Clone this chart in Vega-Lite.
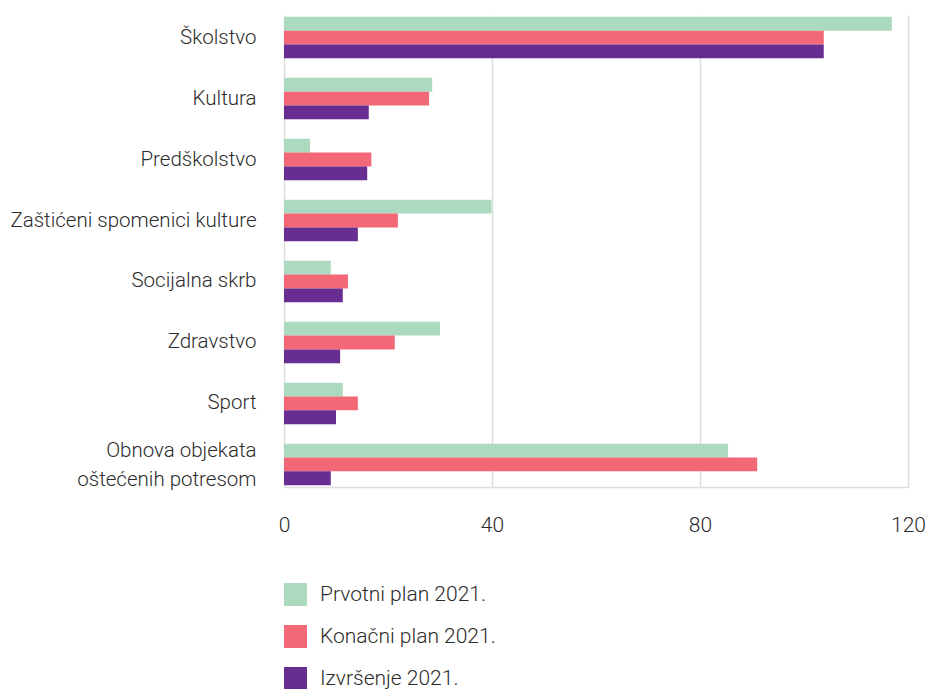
{
  "$schema": "https://vega.github.io/schema/vega-lite/v6.json",
  "width": 624,
  "height": 472,
  "autosize": {"type": "none"},
  "padding": {"left": 284, "top": 15, "right": 22, "bottom": 202},
  "background": "white",
  "config": {
    "view": {"stroke": null},
    "font": "Roboto",
    "axis": {"labelFont": "Roboto", "labelFontWeight": 300, "labelColor": "#2b2b2b", "labelFontSize": 20.5, "labelLimit": 400},
    "legend": {"labelFont": "Roboto", "labelFontWeight": 300, "labelColor": "#2b2b2b", "labelFontSize": 21, "labelLimit": 400}
  },
  "data": {
    "values": [
      {"kategorija": "Školstvo", "serija": "Prvotni plan 2021.", "vrijednost": 116.9},
      {"kategorija": "Školstvo", "serija": "Konačni plan 2021.", "vrijednost": 103.8},
      {"kategorija": "Školstvo", "serija": "Izvršenje 2021.", "vrijednost": 103.8},
      {"kategorija": "Kultura", "serija": "Prvotni plan 2021.", "vrijednost": 28.5},
      {"kategorija": "Kultura", "serija": "Konačni plan 2021.", "vrijednost": 27.9},
      {"kategorija": "Kultura", "serija": "Izvršenje 2021.", "vrijednost": 16.3},
      {"kategorija": "Predškolstvo", "serija": "Prvotni plan 2021.", "vrijednost": 5.0},
      {"kategorija": "Predškolstvo", "serija": "Konačni plan 2021.", "vrijednost": 16.8},
      {"kategorija": "Predškolstvo", "serija": "Izvršenje 2021.", "vrijednost": 16.0},
      {"kategorija": "Zaštićeni spomenici kulture", "serija": "Prvotni plan 2021.", "vrijednost": 39.9},
      {"kategorija": "Zaštićeni spomenici kulture", "serija": "Konačni plan 2021.", "vrijednost": 21.9},
      {"kategorija": "Zaštićeni spomenici kulture", "serija": "Izvršenje 2021.", "vrijednost": 14.2},
      {"kategorija": "Socijalna skrb", "serija": "Prvotni plan 2021.", "vrijednost": 9.0},
      {"kategorija": "Socijalna skrb", "serija": "Konačni plan 2021.", "vrijednost": 12.3},
      {"kategorija": "Socijalna skrb", "serija": "Izvršenje 2021.", "vrijednost": 11.3},
      {"kategorija": "Zdravstvo", "serija": "Prvotni plan 2021.", "vrijednost": 30.0},
      {"kategorija": "Zdravstvo", "serija": "Konačni plan 2021.", "vrijednost": 21.3},
      {"kategorija": "Zdravstvo", "serija": "Izvršenje 2021.", "vrijednost": 10.8},
      {"kategorija": "Sport", "serija": "Prvotni plan 2021.", "vrijednost": 11.3},
      {"kategorija": "Sport", "serija": "Konačni plan 2021.", "vrijednost": 14.2},
      {"kategorija": "Sport", "serija": "Izvršenje 2021.", "vrijednost": 10.0},
      {"kategorija": "Obnova objekata oštećenih potresom", "serija": "Prvotni plan 2021.", "vrijednost": 85.4},
      {"kategorija": "Obnova objekata oštećenih potresom", "serija": "Konačni plan 2021.", "vrijednost": 91.0},
      {"kategorija": "Obnova objekata oštećenih potresom", "serija": "Izvršenje 2021.", "vrijednost": 9.0}
    ]
  },
  "mark": {"type": "bar"},
  "encoding": {
    "y": {
      "field": "kategorija",
      "type": "nominal",
      "sort": null,
      "scale": {"paddingInner": 0.32, "paddingOuter": 0.03},
      "axis": {
        "title": null,
        "domain": false,
        "ticks": false,
        "labelPadding": 28,
        "labelLineHeight": 29,
        "labelOffset": {"condition": {"test": "datum.value == 'Obnova objekata oštećenih potresom'", "value": -13}, "value": 0},
        "labelExpr": "datum.value == 'Obnova objekata oštećenih potresom' ? ['Obnova objekata', 'oštećenih potresom'] : datum.value"
      }
    },
    "yOffset": {
      "field": "serija",
      "type": "nominal",
      "sort": ["Prvotni plan 2021.", "Konačni plan 2021.", "Izvršenje 2021."],
      "scale": {"paddingInner": 0, "paddingOuter": 0}
    },
    "x": {
      "field": "vrijednost",
      "type": "quantitative",
      "scale": {"domain": [0, 120], "nice": false},
      "axis": {
        "title": null,
        "values": [0, 40, 80, 120],
        "grid": true,
        "gridColor": "#dddddd",
        "gridWidth": 1.5,
        "domain": true,
        "domainColor": "#dddddd",
        "domainWidth": 1.5,
        "ticks": false,
        "labelPadding": 27,
        "labelFontSize": 21,
        "labelFlush": false
      }
    },
    "color": {
      "field": "serija",
      "type": "nominal",
      "sort": ["Prvotni plan 2021.", "Konačni plan 2021.", "Izvršenje 2021."],
      "scale": {
        "domain": ["Prvotni plan 2021.", "Konačni plan 2021.", "Izvršenje 2021."],
        "range": ["#acdac0", "#f26877", "#672d90"]
      },
      "legend": {
        "title": null,
        "orient": "none",
        "legendX": 0,
        "legendY": 568,
        "direction": "vertical",
        "symbolType": "square",
        "symbolSize": 529,
        "symbolStrokeWidth": 0,
        "symbolOpacity": 1,
        "rowPadding": 19,
        "labelOffset": 13
      }
    }
  }
}
